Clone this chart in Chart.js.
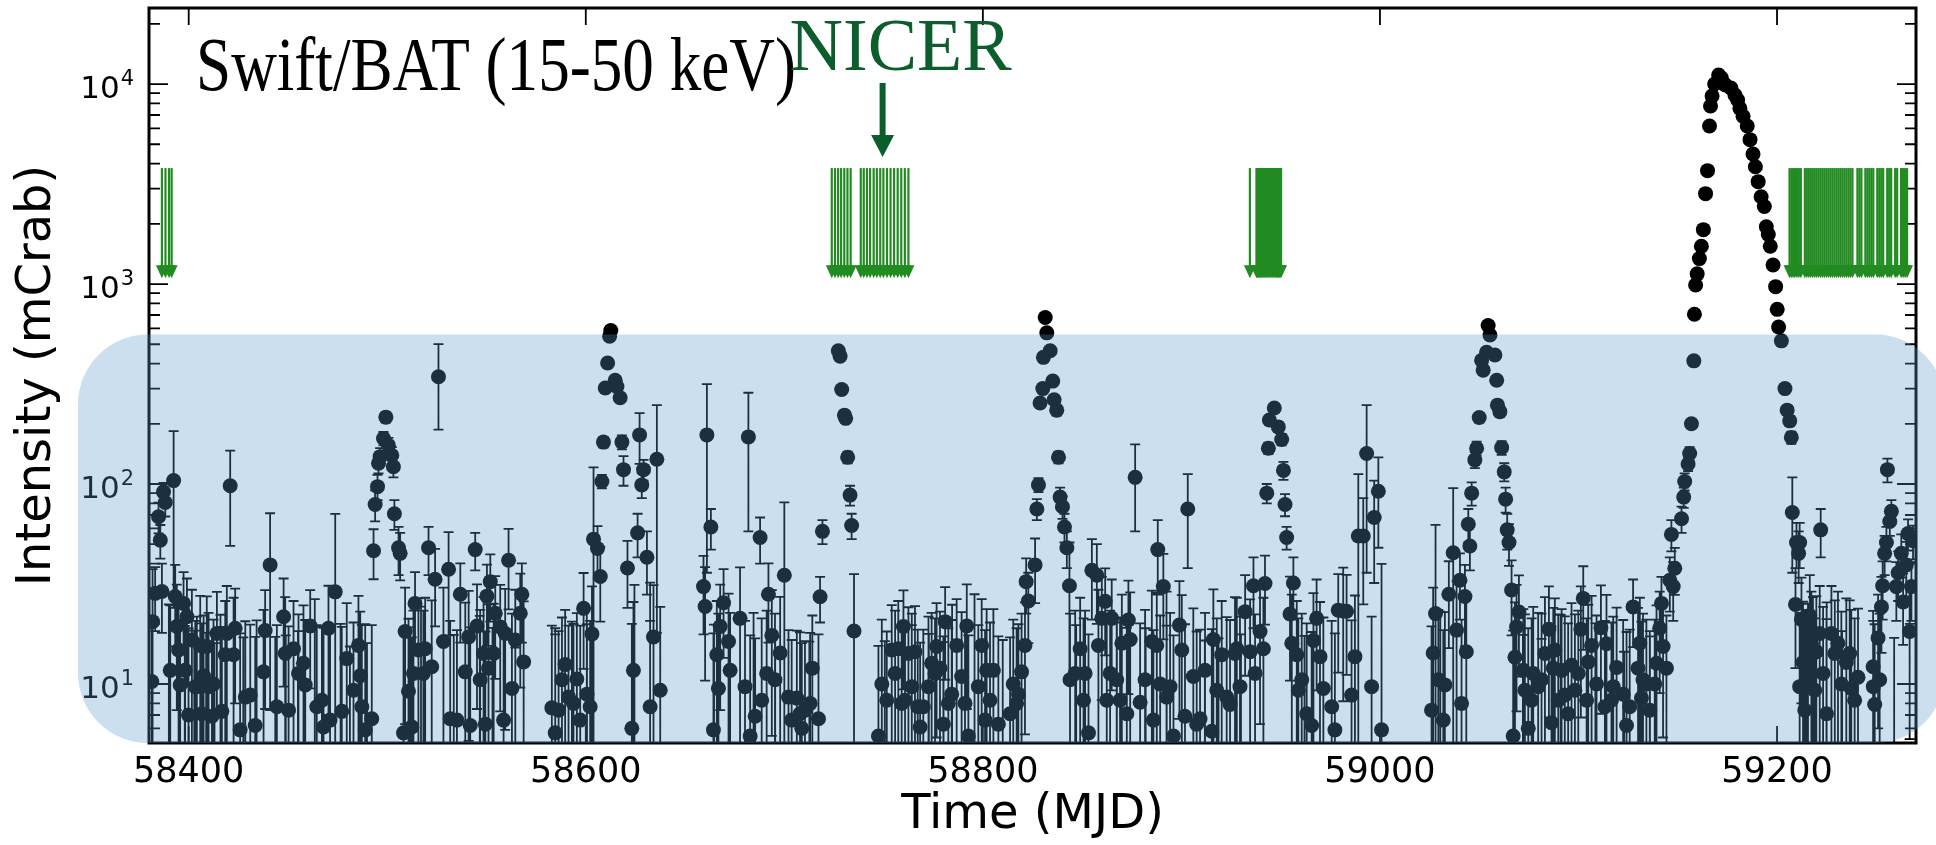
<!DOCTYPE html>
<html>
<head>
    <meta charset="utf-8">
    <title>Swift/BAT light curve</title>
    <style>
        body {
            margin: 0;
            background: #fff;
        }
        .container {
            width: 1936px;
            height: 845px;
            position: relative;
        }
    </style>
</head>
<body>
    <div class="container">
        <canvas id="chart"></canvas>
    </div>

    <script src="https://cdn.jsdelivr.net/npm/chart.js"></script>
    <script>
        // Swift/BAT 15-50 keV daily rates: time (MJD), intensity (mCrab), 1-sigma error
        const batTime = [
            58381.8, 58381.4, 58383.1, 58384.8, 58385.7, 58386.5, 58387.3, 58388.2, 58390.7, 58392.4,
            58393.2, 58394.0, 58394.9, 58395.7, 58397.4, 58399.1, 58399.9, 58401.6, 58404.1, 58405.8,
            58407.5, 58410.0, 58411.7, 58414.2, 58418.4, 58419.2, 58420.9, 58423.4, 58425.9, 58431.0,
            58437.7, 58438.5, 58441.0, 58447.8, 58450.3, 58452.8, 58457.8, 58458.7, 58461.2, 58467.1,
            58467.9, 58470.4, 58473.8, 58479.6, 58485.5, 58486.4, 58488.9, 58492.2, 58493.1, 58493.9,
            58495.1, 58495.6, 58496.4, 58498.1, 58499.3, 58500.6, 58502.3, 58503.1, 58503.6, 58505.7,
            58506.5, 58509.0, 58510.7, 58512.4, 58514.0, 58515.7, 58518.2, 58519.1, 58520.8, 58522.4,
            58524.1, 58525.8, 58528.3, 58530.9, 58531.7, 58536.8, 58539.3, 58541.0, 58541.8, 58544.3,
            58545.2, 58548.5, 58549.4, 58550.2, 58551.0, 58551.9, 58554.4, 58556.9, 58559.4, 58561.1,
            58562.8, 58567.0, 58567.8, 58568.7, 58582.9, 58586.3, 58589.6, 58591.3, 58595.5, 58598.9,
            58602.2, 58603.1, 58603.9, 58605.9, 58607.3, 58608.1, 58608.9, 58609.8, 58611.0, 58612.0,
            58612.6, 58614.8, 58615.7, 58617.3, 58618.2, 58619.0, 58621.0, 58623.2, 58626.1, 58627.1,
            58628.2, 58629.1, 58630.8, 58634.1, 58635.8, 58637.5, 58659.3, 58660.1, 58661.0, 58663.0,
            58666.0, 58666.8, 58669.4, 58671.9, 58677.7, 58681.9, 58682.8, 58687.8, 58688.6, 58691.1,
            58692.0, 58693.7, 58697.9, 58700.0, 58703.7, 58706.3, 58708.8, 58710.4, 58714.1, 58717.2,
            58718.0, 58719.2, 58727.2, 58728.1, 58728.9, 58730.3, 58730.9, 58731.9, 58733.1, 58733.9,
            58735.1, 58747.4, 58754.1, 58757.4, 58760.0, 58760.8, 58762.5, 58765.8, 58768.4, 58770.0,
            58774.2, 58776.7, 58778.4, 58781.0, 58782.6, 58786.8, 58789.3, 58791.9, 58792.7, 58799.4,
            58801.9, 58803.6, 58805.3, 58815.3, 58817.0, 58819.5, 58821.2, 58821.8, 58822.9, 58826.3,
            58827.2, 58828.0, 58828.8, 58830.2, 58830.5, 58831.4, 58832.2, 58833.9, 58835.2, 58835.9,
            58837.2, 58838.1, 58838.9, 58840.1, 58841.1, 58842.3, 58843.6, 58843.9, 58849.0, 58851.5,
            58853.2, 58854.9, 58857.4, 58858.2, 58859.9, 58861.6, 58864.1, 58864.9, 58869.1, 58870.0,
            58873.3, 58874.2, 58876.7, 58879.2, 58885.1, 58887.6, 58888.1, 58889.3, 58890.9, 58894.3,
            58896.0, 58899.0, 58900.2, 58903.2, 58906.0, 58909.4, 58915.3, 58916.1, 58920.3, 58924.5,
            58927.0, 58927.9, 58932.1, 58934.6, 58936.3, 58939.6, 58941.3, 58942.1, 58943.0, 58943.8,
            58944.3, 58946.8, 58948.8, 58950.5, 58951.4, 58952.2, 58953.0, 58954.7, 58955.6, 58956.4,
            58958.1, 58960.6, 58965.6, 58966.5, 58968.1, 58971.5, 58979.0, 58981.5, 58983.2, 58985.7,
            58989.1, 58991.6, 58993.3, 58997.1, 58999.2, 59000.8, 59026.0, 59026.8, 59028.0, 59032.7,
            59034.7, 59036.9, 59038.6, 59040.3, 59042.8, 59043.5, 59044.5, 59045.3, 59046.2, 59047.8,
            59048.7, 59050.0, 59051.2, 59052.0, 59053.7, 59054.5, 59055.4, 59057.9, 59058.8, 59059.2,
            59060.4, 59061.3, 59062.6, 59063.3, 59064.1, 59065.0, 59066.3, 59067.1, 59068.0, 59068.8,
            59070.0, 59073.0, 59074.7, 59077.2, 59079.7, 59083.1, 59085.1, 59086.4, 59087.3, 59088.1,
            59093.1, 59096.5, 59098.2, 59101.2, 59102.4, 59104.9, 59106.6, 59111.3, 59114.1, 59116.6,
            59119.2, 59124.2, 59127.5, 59130.0, 59130.9, 59131.7, 59134.2, 59138.4, 59140.9, 59141.8,
            59144.3, 59146.0, 59146.8, 59147.7, 59148.5, 59151.9, 59153.0, 59153.5, 59155.2, 59156.0,
            59156.9, 59158.1, 59158.4, 59159.0, 59159.8, 59160.9, 59161.9, 59162.9, 59164.0, 59165.0,
            59166.0, 59166.5, 59167.3, 59168.6, 59170.6, 59172.0, 59174.0, 59176.8, 59178.8, 59180.2,
            59181.3, 59182.9, 59185.0, 59186.4, 59187.9, 59189.1, 59190.5, 59192.0, 59193.6, 59194.6,
            59195.6, 59196.6, 59198.0, 59199.3, 59200.1, 59200.8, 59202.2, 59204.0, 59205.1, 59206.4,
            59207.2, 59207.7, 59209.8, 59210.9, 59211.4, 59209.3, 59212.3, 59213.1, 59214.8, 59216.5,
            59217.3, 59218.1, 59219.8, 59221.5, 59222.0, 59227.4, 59230.7, 59234.9, 59237.4, 59240.8,
            59249.2, 59248.5, 59250.9, 59252.6, 59253.2, 59254.2, 59255.1, 59255.6, 59256.8, 59257.6,
            59261.0, 59263.5, 59265.1, 59266.0, 59266.8, 59268.5, 58390.0, 58398.0, 58402.8, 58408.8,
            58413.0, 58416.0, 58427.5, 58434.2, 58443.6, 58448.9, 58455.0, 58463.5, 58476.5, 58481.2,
            58489.8, 58511.6, 58517.0, 58533.5, 58546.6, 58553.0, 58564.5, 58584.6, 58593.0, 58600.5,
            58624.5, 58632.4, 58664.6, 58684.5, 58695.4, 58712.6, 58750.6, 58764.2, 58772.8, 58780.2,
            58784.5, 58795.8, 58810.0, 58847.0, 58867.5, 58882.0, 58892.5, 58911.8, 58918.7, 58930.0,
            58962.0, 59030.4, 59072.0, 59081.4, 59091.0, 59108.5, 59123.0, 59136.0, 59215.5, 59225.0,
            59232.8, 59259.0,
            58398.2, 58403.3, 58406.6, 58409.1, 58412.5, 58416.7, 58422.6, 58428.5, 58433.5, 58444.4,
            58448.6, 58455.3, 58464.5, 58471.2, 58477.1, 58483.0, 58487.2, 58508.2, 58513.2, 58535.1,
            58546.8, 58553.6, 58558.6, 58564.5, 58584.6, 58588.0, 58593.8, 58597.2, 58600.6, 58624.0,
            58632.4, 58664.3, 58667.7, 58672.7, 58680.2, 58685.3, 58695.3, 58702.1, 58707.9, 58713.0,
            58749.1, 58751.6, 58755.8, 58759.1, 58764.2, 58767.2, 58772.6, 58775.9, 58780.1, 58784.3,
            58791.0, 58797.7, 58801.1, 58807.8, 58813.7, 58817.9, 58846.5, 58850.7, 58862.4, 58867.4,
            58872.5, 58881.7, 58885.9, 58892.6, 58901.8, 58907.7, 58911.9, 58917.8, 58922.8, 58929.5,
            58937.1, 58958.9, 58963.1, 58969.8, 58975.7, 58977.3, 58987.4, 58995.8, 59029.4, 59031.9,
            59041.1, 59072.2, 59076.4, 59081.4, 59089.8, 59091.5, 59094.8, 59099.9, 59104.1, 59109.1,
            59113.3, 59117.5, 59122.5, 59125.8, 59132.5, 59135.9, 59139.3, 59142.6, 59211.4, 59214.0,
            59215.6, 59219.0, 59223.2, 59224.9, 59229.1, 59232.4, 59236.6, 59239.1, 59248.4, 59251.7,
            59260.1, 59262.6, 59267.7
        ];
        const batRate = [
            20.5, 10.3, 28.4, 68.6, 52.4, 29, 91.4, 80.8, 11.7, 104,
            27.4, 19.4, 14.8, 9.9, 25.3, 21.7, 7.0, 16.6, 9.7, 15.6,
            11, 9.7, 6.9, 17.9, 14, 17.9, 98, 19, 5.9, 8.8,
            11.5, 18.5, 39.4, 21.7, 7.4, 15, 12.7, 9.9, 19.5, 8.3,
            6.1, 19, 28.9, 13.4, 15.6, 11, 5.9, 6.7, 46.4, 79,
            97, 127, 137, 169, 216, 156, 139, 122, 71, 48,
            45, 18.3, 9.2, 6.1, 25.3, 14.8, 11.3, 15, 48, 12.2,
            33.4, 344, 16.3, 37.5, 6.7, 28.1, 11.5, 17.2, 6.2, 47,
            19.5, 14.2, 6.3, 27.5, 12, 32.5, 22.6, 19.3, 17.9, 41.6,
            9.5, 22.6, 28.1, 12.9, 7.6, 7.4, 12.5, 8.6, 10.6, 23.9,
            7.7, 17.8, 53, 47.6, 34.5, 103, 162, 302, 403, 548,
            585, 330, 307, 270, 162, 118, 38, 6, 57, 176,
            99, 118, 43, 17.2, 133, 9.3, 30.7, 24.4, 176, 61,
            14, 9.5, 25.5, 16.3, 21.3, 172, 5.5, 54, 8.3, 11.3,
            28.1, 17.5, 14.3, 35, 6.6, 8.5, 6, 7.4, 12, 6.7,
            27.3, 58, 464, 436, 297, 221, 213, 136, 88, 62,
            18.4, 5.5, 14.8, 15, 19.4, 8.3, 14.2, 14.5, 6.1, 7.7,
            12.7, 15.4, 12, 20.5, 8, 15.6, 10.9, 19.5, 5.5, 15.6,
            11.7, 8.3, 11.7, 10, 8, 11.5, 15.6, 32.5, 26, 39.4,
            75, 99, 254, 300, 430, 680, 570, 464, 327, 264,
            234, 136, 86, 77, 61, 48, 31, 10.5, 15, 11.3,
            5.7, 37, 35, 15.6, 21.3, 25.9, 11.3, 21.3, 8.3, 16,
            20.9, 16.7, 108, 8.1, 16.3, 15.6, 47, 10, 30.7, 9.7,
            5.5, 19.7, 14.8, 75, 10.9, 6.7, 5.8, 16.7, 14, 7.9,
            14.2, 15, 23, 14.5, 31, 18.3, 15, 31.8, 90, 151,
            209, 240, 193, 167, 117, 79, 54, 22.4, 16, 32,
            14, 10.5, 6.2, 16.5, 21.3, 9.5, 23.4, 23.2, 23.1, 8.8,
            55, 55, 142, 68, 92, 5.9, 7.4, 14.3, 22.5, 9.9,
            28.1, 45.3, 18.6, 33, 27.4, 14.5, 63, 49, 90, 132,
            151, 215, 415, 371, 456, 620, 556, 442, 330, 248,
            230, 152, 115, 84, 59, 51, 29.5, 5.5, 13.6, 19.3,
            22.9, 9.3, 6, 11.3, 9.7, 14.2, 18.8, 6.4, 12, 14.8,
            8.8, 12.4, 9.3, 18.8, 26.8, 12.9, 15.6, 19.1, 15.9, 8.3,
            12.1, 6.2, 24.3, 12, 16, 8.5, 10, 10, 19, 25.3,
            12, 33, 56, 30.7, 37.9, 67, 86, 103, 126, 142,
            200, 413, 706, 989, 1124, 1340, 1545, 1870, 2830, 3690,
            6170, 7760, 8710, 10000, 11100, 10700, 9890, 9550, 8810, 8320,
            7560, 6900, 6170, 5270, 4470, 3860, 3250, 2730, 2440, 1935,
            1770, 1545, 1245, 970, 747, 610, 520, 300, 234, 207,
            171, 72, 51, 45, 51, 25, 21, 12.8, 10.5, 22,
            16, 14.2, 14.5, 17.9, 59, 17.9, 16, 12.8, 9.5, 10.8,
            7.9, 9.7, 17, 24.3, 31, 45, 51, 118, 65, 73,
            36, 25.7, 39.4, 56.5, 18.3, 52, 3.0, 2.5, 3.5, 2.0,
            4.0, 2.2, 3.1, 2.8, 4.2, 1.5, 3.4, 2.6, 3.0, 4.4,
            2.0, 3.2, 2.4, 3.6, 2.9, 4.1, 2.2, 3.0, 2.5, 4.0,
            3.3, 2.1, 3.8, 2.7, 3.2, 4.3, 2.4, 3.5, 1.8, 4.2,
            2.9, 3.1, 2.6, 3.7, 2.3, 4.0, 3.0, 2.5, 3.9, 2.7,
            3.4, 3.0, 2.6, 3.8, 2.2, 4.1, 2.5, 3.3, 2.8, 3.6,
            2.4, 3.0,
            11.7, 9.7, 7.1, 15.4, 10, 7.3, 14, 8.6, 6.2, 7.7,
            14.2, 11.3, 7.7, 6.6, 7.3, 9.3, 7.7, 5.7, 11.3, 6.6,
            10.5, 14.2, 6.6, 16.6, 5.7, 10.5, 8, 6.6, 8.9, 11.7,
            7.7, 5.9, 19.4, 11.7, 9.7, 6.9, 10.5, 8.6, 7.1, 8,
            10, 8.3, 11.3, 8, 9.7, 7.7, 9.7, 11.3, 6.3, 8.9,
            8, 9.7, 6.6, 6.3, 7.1, 8.9, 11.3, 8.3, 8.3, 10.5,
            7.1, 10.5, 6.6, 8.6, 6.9, 6.3, 11.7, 9.3, 8.6, 9.7,
            11.3, 9.3, 7.1, 13.7, 7.7, 5.9, 13.7, 9.7, 10.5, 6.6,
            8, 11.7, 8.3, 10.5, 8.3, 11.7, 7.1, 11.3, 8.3, 10,
            7.7, 9.7, 8.9, 7.7, 10.5, 7.4, 12.7, 15.4, 9.7, 7.4,
            12.2, 9.3, 11.3, 7.1, 14.2, 10, 14.2, 8.3, 12.2, 10.5,
            30.7, 45, 30.7
        ];
        const batErr = [
            17, 9, 10, 12, 10, 11, 10, 12, 13, 80,
            12, 12, 12, 11, 11, 12, 12, 13, 12, 12,
            11, 13, 11, 11, 12, 13, 49, 11, 12, 11,
            12, 11, 32, 12, 12, 11, 12, 11, 10, 11,
            13, 12, 42, 12, 12, 12, 14, 13, 13, 14,
            14, 14, 14, 13, 13, 14, 14, 14, 12, 13,
            12, 12, 12, 11, 11, 12, 12, 12, 13, 14,
            14, 157, 14, 20, 14, 12, 14, 12, 13, 10,
            12, 13, 12, 12, 13, 12, 12, 12, 12, 18,
            13, 13, 12, 13, 12, 11, 11, 11, 12, 12,
            13, 13, 68, 14, 14, 8, 10, 12, 12, 14,
            14, 15, 14, 14, 13, 20, 14, 14, 14, 50,
            14, 14, 15, 14, 115, 15, 13, 14, 140, 14,
            12, 13, 12, 12, 17, 114, 12, 14, 13, 12,
            12, 12, 13, 46, 10, 10, 10, 9, 10, 11,
            7, 8, 10, 10, 10, 10, 9, 9, 10, 9,
            17, 10, 10, 11, 10, 11, 10, 10, 10, 11,
            10, 10, 11, 10, 11, 11, 12, 12, 12, 11,
            12, 12, 12, 11, 11, 11, 10, 10, 10, 14,
            9, 8, 10, 10, 11, 12, 12, 11, 11, 11,
            14, 9, 10, 10, 10, 10, 20, 12, 12, 12,
            12, 16, 15, 14, 13, 12, 12, 12, 13, 12,
            12, 12, 50, 12, 13, 13, 19, 12, 14, 13,
            12, 13, 13, 37, 13, 12, 13, 13, 12, 13,
            13, 12, 12, 12, 12, 12, 12, 12, 10, 10,
            10, 10, 10, 11, 12, 10, 7, 12, 12, 11,
            12, 12, 12, 12, 12, 12, 12, 15, 12, 12,
            57, 30, 106, 36, 44, 34, 12, 16, 40, 13,
            13, 50, 14, 12, 12, 12, 12, 12, 12, 12,
            12, 12, 12, 13, 13, 14, 14, 13, 13, 13,
            13, 12, 12, 12, 12, 12, 12, 13, 12, 12,
            12, 13, 13, 13, 13, 13, 12, 13, 12, 12,
            13, 13, 13, 12, 12, 12, 12, 12, 12, 12,
            12, 12, 9, 12, 11, 12, 11, 11, 10, 9,
            10, 10, 10, 10, 10, 10, 10, 10, 10, 11,
            10, 10, 20, 25, 28, 30, 35, 40, 50, 60,
            80, 90, 100, 110, 120, 110, 100, 100, 95, 90,
            85, 80, 75, 70, 65, 60, 55, 50, 45, 40,
            38, 35, 30, 28, 25, 22, 20, 15, 12, 12,
            12, 36, 13, 13, 13, 13, 13, 13, 13, 13,
            13, 13, 13, 13, 16, 13, 13, 14, 14, 13,
            12, 11, 11, 10, 10, 10, 10, 16, 10, 10,
            10, 10, 12, 10, 13, 10, 22, 17, 15, 16,
            12, 20, 14, 18, 13, 16, 15, 24, 17, 11,
            14, 16, 22, 14, 19, 15, 13, 16, 18, 20,
            28, 30, 16, 20, 14, 12, 14, 19, 16, 12,
            22, 25, 14, 16, 18, 15, 26, 14, 13, 15,
            14, 20, 15, 13, 20, 16, 12, 14, 18, 22,
            16, 14,
            12, 11, 13, 12, 11, 12, 13, 12, 11, 12,
            13, 11, 12, 13, 12, 11, 12, 13, 12, 12,
            13, 11, 12, 13, 12, 11, 12, 13, 11, 14,
            13, 12, 12, 11, 11, 10, 12, 10, 11, 10,
            11, 10, 12, 11, 10, 11, 12, 10, 11, 12,
            11, 10, 12, 11, 10, 11, 12, 13, 12, 11,
            12, 13, 12, 11, 13, 12, 11, 12, 13, 12,
            11, 12, 13, 12, 13, 12, 14, 12, 13, 12,
            13, 12, 13, 12, 14, 12, 13, 12, 13, 12,
            13, 12, 12, 11, 12, 11, 12, 10, 13, 12,
            13, 12, 13, 14, 12, 13, 12, 13, 11, 12,
            10, 11, 10
        ];

        // NICER pointings, shown as green upper-limit arrows
        const nicerTime = [
            58386.5, 58388.3, 58390.1, 58391.4,
            58723.9, 58725.5, 58727.1, 58728.6, 58730.2, 58731.8, 58733.4,
            58738.5, 58740.0, 58741.6, 58743.2, 58745.0, 58746.6, 58748.3, 58749.9,
            58751.7, 58753.5, 58755.3, 58757.1, 58758.9, 58760.7, 58762.5,
            58934.5, 58937.8, 58938.3, 58938.8, 58939.4, 58939.9, 58940.4, 58941.0, 58941.5,
            58942.0, 58942.5, 58943.1, 58943.6, 58944.1, 58944.6, 58945.2, 58945.7, 58946.2,
            58946.7, 58947.3, 58947.8, 58948.3, 58948.8, 58949.2, 58949.7, 58950.2,
            59206.3, 59207.2, 59208.1, 59209.0, 59210.0, 59211.0, 59212.0, 59214.0, 59215.0, 59216.0,
            59217.0, 59218.0, 59219.0, 59220.0, 59221.0, 59222.0, 59223.0, 59224.0, 59225.0, 59226.0,
            59227.0, 59228.0, 59229.0, 59230.0, 59231.0, 59232.0, 59233.0, 59234.0, 59235.0, 59236.0,
            59237.0, 59238.0, 59240.5, 59241.5, 59242.5, 59244.5, 59245.5, 59246.5, 59247.5, 59248.5,
            59250.5, 59251.5, 59252.5, 59253.5, 59255.5, 59256.5, 59257.5, 59259.5, 59260.5, 59262.5,
            59263.5, 59264.5, 59265.5
        ];
        const nicerTop = 3800;
        const nicerLimit = 1070;
        const nicerLabelTime = 58749.5;

        const xTicks = [58400, 58600, 58800, 59000, 59200];
        const yMajor = [10, 100, 1000, 10000];
        const yMinor = [6, 7, 8, 9, 20, 30, 40, 50, 60, 70, 80, 90,
            200, 300, 400, 500, 600, 700, 800, 900,
            2000, 3000, 4000, 5000, 6000, 7000, 8000, 9000, 20000];
        const xMin = 58380, xMax = 59270;
        const yMin = 5.07, yMax = 24000;
        const bandTop = 560; // mCrab, top edge of the shaded band

        Chart.defaults.font.family = "'DejaVu Sans', sans-serif";

        const errorBars = {
            id: 'errorBars',
            beforeDatasetsDraw(chart) {
                const { ctx, chartArea: a, scales: { x, y } } = chart;
                ctx.save();
                ctx.beginPath();
                ctx.rect(a.left, a.top, a.width, a.height);
                ctx.clip();
                ctx.strokeStyle = '#000';
                ctx.lineWidth = 1.8;
                ctx.beginPath();
                batTime.forEach((t, i) => {
                    const px = x.getPixelForValue(t);
                    const hi = y.getPixelForValue(batRate[i] + batErr[i]);
                    const lowVal = batRate[i] - batErr[i];
                    const lo = lowVal > 0 ? y.getPixelForValue(lowVal) : a.bottom + 20;
                    ctx.moveTo(px, lo);
                    ctx.lineTo(px, hi);
                    ctx.moveTo(px - 5, hi);
                    ctx.lineTo(px + 5, hi);
                    ctx.moveTo(px - 5, lo);
                    ctx.lineTo(px + 5, lo);
                });
                ctx.stroke();
                ctx.restore();
            }
        };

        // matplotlib-style frame, inward ticks and 10^n labels
        const frameTicks = {
            id: 'frameTicks',
            afterDatasetsDraw(chart) {
                const { ctx, chartArea: a, scales: { x, y } } = chart;
                ctx.save();
                ctx.strokeStyle = '#000';
                ctx.lineWidth = 1.8;
                ctx.beginPath();
                xTicks.forEach(v => {
                    const px = x.getPixelForValue(v);
                    ctx.moveTo(px, a.bottom);
                    ctx.lineTo(px, a.bottom - 17);
                    ctx.moveTo(px, a.top);
                    ctx.lineTo(px, a.top + 17);
                });
                yMajor.forEach(v => {
                    const py = y.getPixelForValue(v);
                    ctx.moveTo(a.left, py);
                    ctx.lineTo(a.left + 19, py);
                    ctx.moveTo(a.right, py);
                    ctx.lineTo(a.right - 19, py);
                });
                yMinor.forEach(v => {
                    const py = y.getPixelForValue(v);
                    ctx.moveTo(a.left, py);
                    ctx.lineTo(a.left + 11, py);
                    ctx.moveTo(a.right, py);
                    ctx.lineTo(a.right - 11, py);
                });
                ctx.stroke();
                ctx.lineWidth = 3;
                ctx.strokeRect(a.left, a.top, a.width, a.height);

                ctx.fillStyle = '#000';
                ctx.textAlign = 'right';
                ctx.textBaseline = 'alphabetic';
                yMajor.forEach(v => {
                    const py = y.getPixelForValue(v);
                    const exp = String(Math.round(Math.log10(v)));
                    ctx.font = "21px 'DejaVu Sans'";
                    const ew = ctx.measureText(exp).width;
                    ctx.fillText(exp, a.left - 15, py + 1);
                    ctx.font = "31px 'DejaVu Sans'";
                    ctx.fillText('10', a.left - 16 - ew, py + 14);
                });
                ctx.restore();
            }
        };

        const nicerArrows = {
            id: 'nicerArrows',
            afterDatasetsDraw(chart) {
                const { ctx, scales: { x, y } } = chart;
                const top = y.getPixelForValue(nicerTop);
                const tip = y.getPixelForValue(nicerLimit);
                ctx.save();
                ctx.strokeStyle = '#228b22';
                ctx.fillStyle = '#228b22';
                ctx.lineWidth = 2.2;
                nicerTime.forEach(t => {
                    const px = x.getPixelForValue(t);
                    ctx.beginPath();
                    ctx.moveTo(px, top);
                    ctx.lineTo(px, tip - 8);
                    ctx.stroke();
                    ctx.beginPath();
                    ctx.moveTo(px - 6, tip - 13);
                    ctx.lineTo(px + 6, tip - 13);
                    ctx.lineTo(px, tip);
                    ctx.closePath();
                    ctx.fill();
                });
                ctx.restore();
            }
        };

        // translucent blue band laid over the lower part of the plot
        const band = {
            id: 'band',
            afterDraw(chart) {
                const { ctx, chartArea: a, scales: { y } } = chart;
                const l = a.left - 71, r = a.right + 29;
                const t = y.getPixelForValue(bandTop), b = a.bottom;
                const rad = 70;
                ctx.save();
                ctx.fillStyle = 'rgba(90, 152, 203, 0.31)';
                ctx.beginPath();
                ctx.moveTo(l + rad, t);
                ctx.arcTo(r, t, r, b, rad);
                ctx.arcTo(r, b, l, b, rad);
                ctx.arcTo(l, b, l, t, rad);
                ctx.arcTo(l, t, r, t, rad);
                ctx.closePath();
                ctx.fill();
                ctx.restore();
            }
        };

        const labels = {
            id: 'labels',
            afterDraw(chart) {
                const { ctx, scales: { x } } = chart;
                ctx.save();
                ctx.fillStyle = '#000';
                ctx.font = '76px "Liberation Serif", serif';
                ctx.textBaseline = 'alphabetic';
                const swift = 'Swift/BAT (15-50 keV)';
                const w = ctx.measureText(swift).width;
                ctx.translate(196, 90);
                ctx.scale(600 / w, 1);
                ctx.fillText(swift, 0, 0);
                ctx.restore();

                const ax = x.getPixelForValue(nicerLabelTime);
                ctx.save();
                ctx.fillStyle = '#0b5e2b';
                ctx.font = '74px "Liberation Serif", serif';
                ctx.textAlign = 'center';
                ctx.fillText('NICER', ax + 18, 70);
                ctx.fillRect(ax - 3, 83, 6, 54);
                ctx.beginPath();
                ctx.moveTo(ax - 11.5, 135);
                ctx.lineTo(ax + 11.5, 135);
                ctx.lineTo(ax, 157);
                ctx.closePath();
                ctx.fill();
                ctx.restore();
            }
        };

        const ctx = document.getElementById('chart').getContext('2d');
        const chart = new Chart(ctx, {
            type: 'scatter',
            data: {
                datasets: [{
                    label: 'Swift/BAT',
                    data: batTime.map((t, i) => ({ x: t, y: batRate[i] })),
                    pointRadius: 7.5,
                    pointHoverRadius: 7.5,
                    pointBackgroundColor: '#000',
                    pointBorderWidth: 0,
                    clip: 0
                }]
            },
            options: {
                responsive: true,
                maintainAspectRatio: false,
                animation: false,
                events: [],
                layout: {
                    padding: { top: 8, right: 20, left: 0, bottom: 0 },
                    autoPadding: false
                },
                plugins: {
                    legend: { display: false },
                    tooltip: { enabled: false }
                },
                scales: {
                    x: {
                        type: 'linear',
                        min: xMin,
                        max: xMax,
                        afterBuildTicks: s => { s.ticks = xTicks.map(v => ({ value: v })); },
                        afterFit: s => {
                            s.height = 102;
                            s.paddingLeft = 0;
                            s.paddingRight = 0;
                        },
                        grid: { display: false, drawTicks: false },
                        border: { display: false },
                        ticks: {
                            color: '#000',
                            font: { size: 35 },
                            padding: 9,
                            maxRotation: 0,
                            autoSkip: false,
                            callback: v => String(v)
                        },
                        title: {
                            display: true,
                            text: 'Time (MJD)',
                            color: '#000',
                            font: { size: 48 },
                            padding: { top: 0, bottom: 1 }
                        }
                    },
                    y: {
                        type: 'logarithmic',
                        min: yMin,
                        max: yMax,
                        afterBuildTicks: s => { s.ticks = yMajor.map(v => ({ value: v })); },
                        afterFit: s => {
                            s.width = 149;
                            s.paddingTop = 0;
                            s.paddingBottom = 0;
                        },
                        grid: { display: false, drawTicks: false },
                        border: { display: false },
                        ticks: { display: false },
                        title: {
                            display: true,
                            text: 'Intensity (mCrab)',
                            color: '#000',
                            font: { size: 48 },
                            padding: { top: 9, bottom: 0 }
                        }
                    }
                }
            },
            plugins: [errorBars, frameTicks, nicerArrows, band, labels]
        });
    </script>
</body>
</html>
